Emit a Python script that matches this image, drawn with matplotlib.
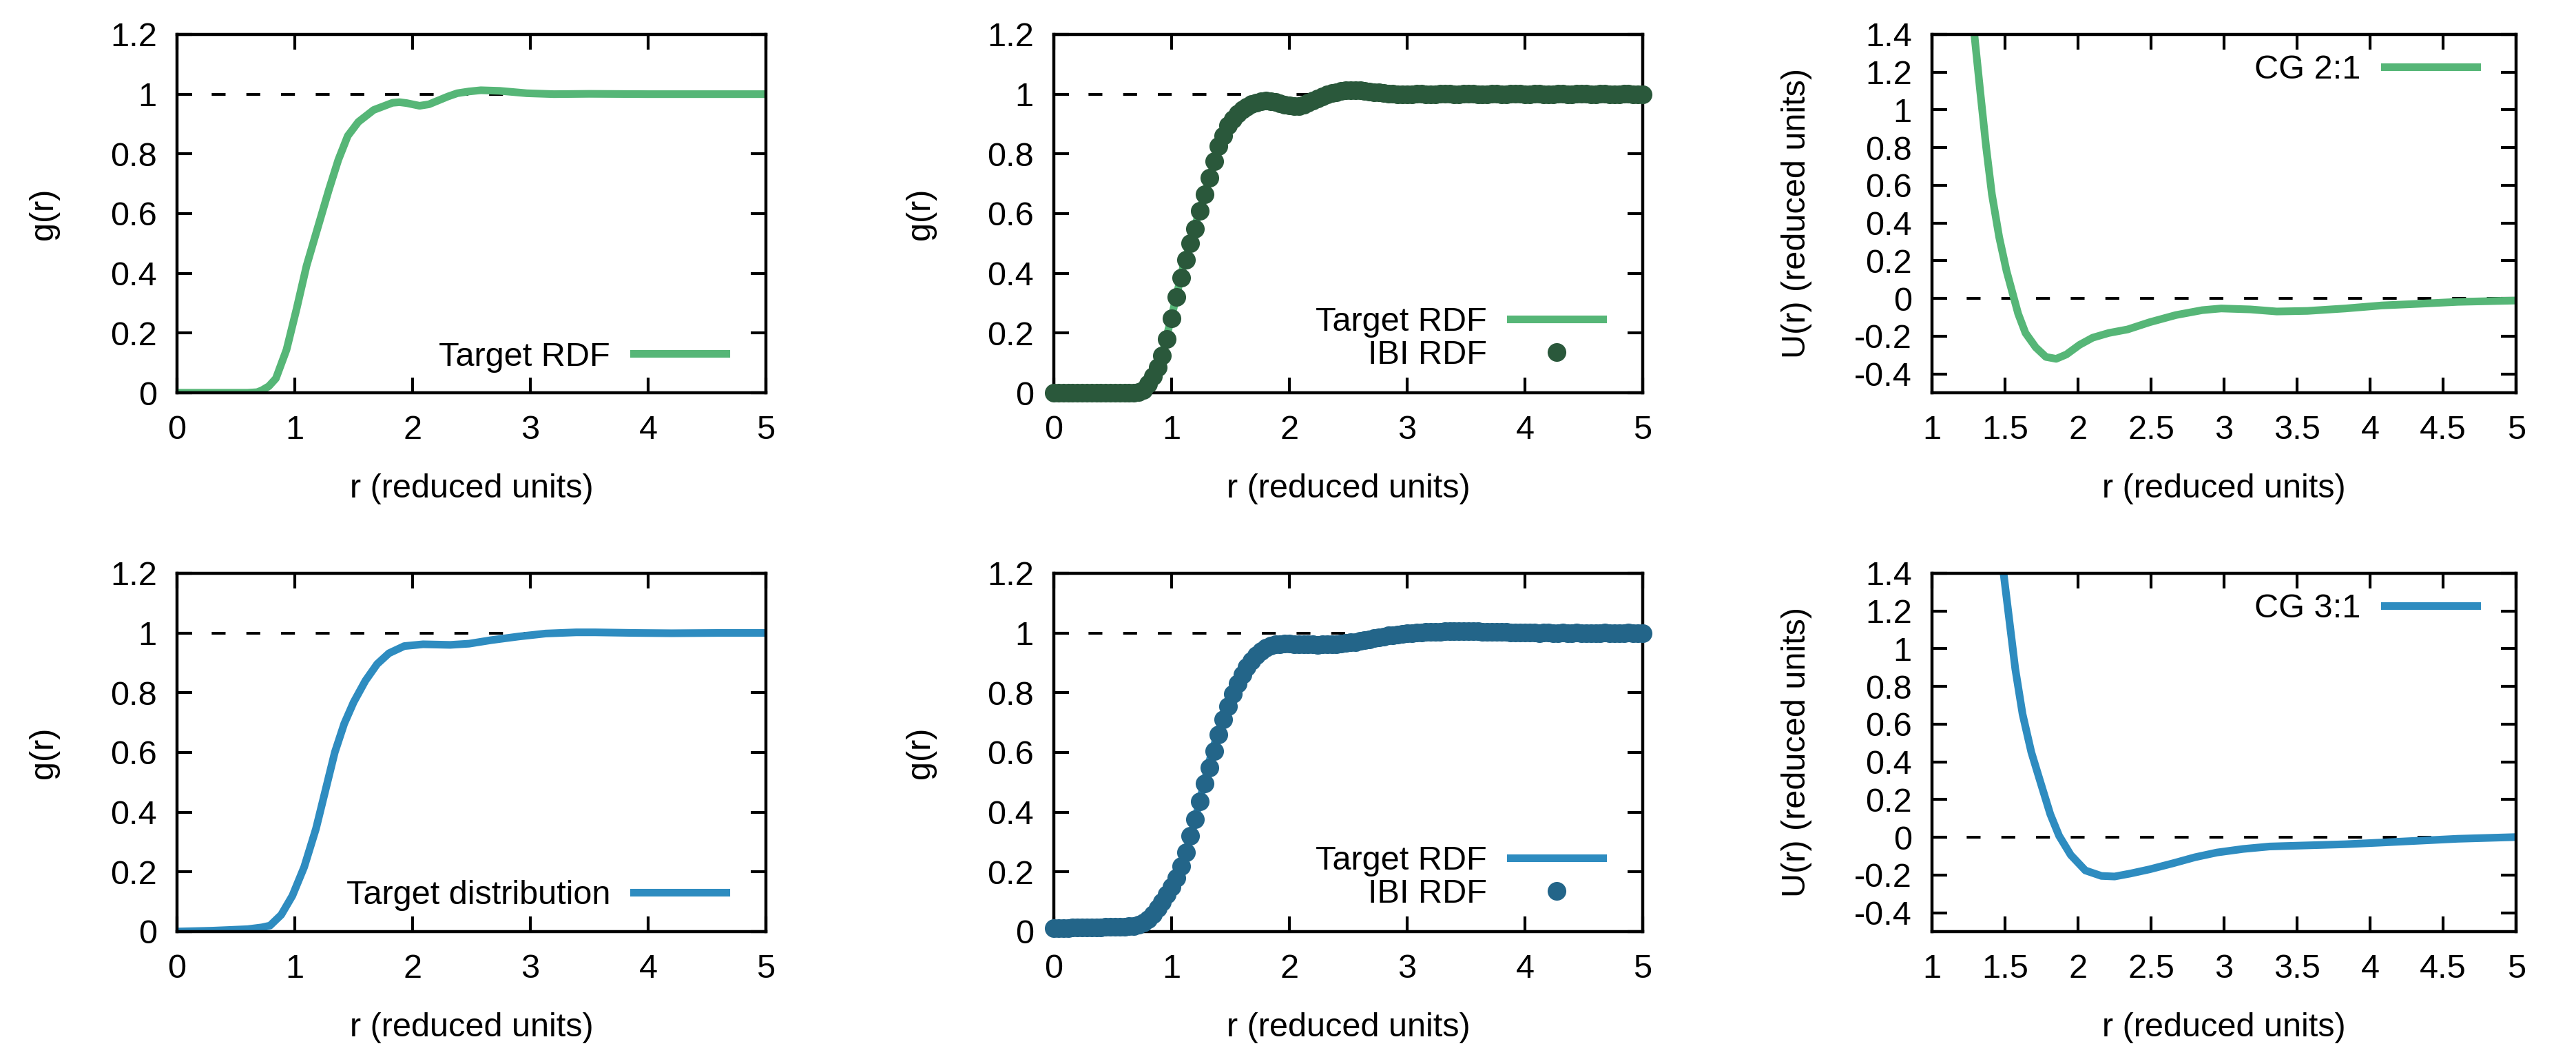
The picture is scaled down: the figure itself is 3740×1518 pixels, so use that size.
import numpy as np
import matplotlib
matplotlib.use("Agg")
import matplotlib.pyplot as plt
from matplotlib.ticker import FuncFormatter

plt.rcParams['font.family'] = ['Liberation Sans', 'DejaVu Sans']

# colours
green = '#56b677'
dgreen = '#2a583b'
blue = '#2e8cc0'
dblue = '#236589'

# Target RDF (top row)
r_target_top = [0.0, 0.3, 0.6, 0.68, 0.72, 0.78, 0.84, 0.93, 1.015, 1.10, 1.19, 1.29, 1.37,
                1.45, 1.54, 1.67, 1.83, 1.89, 1.95, 2.06, 2.14, 2.22, 2.30, 2.38, 2.48,
                2.58, 2.74, 2.97, 3.2, 3.5, 4.0, 4.5, 5.0]
g_target_top = [0.0, 0.0, 0.0, 0.002, 0.008, 0.022, 0.048, 0.144, 0.28, 0.425, 0.546, 0.68, 0.78,
                0.86, 0.907, 0.947, 0.971, 0.973, 0.970, 0.961, 0.966, 0.979, 0.992, 1.003, 1.009,
                1.013, 1.011, 1.003, 1.0, 1.001, 1.0, 1.0, 1.0]

# Target distribution (bottom row)
r_target_bot = [0.0, 0.3, 0.6, 0.72, 0.79, 0.885, 0.98, 1.08, 1.18, 1.26, 1.34, 1.42, 1.50,
                1.60, 1.70, 1.80, 1.93, 2.09, 2.32, 2.48, 2.67, 2.90, 3.13, 3.39, 3.55,
                3.88, 4.2, 4.6, 5.0]
g_target_bot = [0.0, 0.003, 0.008, 0.014, 0.02, 0.056, 0.12, 0.216, 0.344, 0.472, 0.6, 0.696, 0.768,
                0.84, 0.896, 0.932, 0.956, 0.962, 0.96, 0.964, 0.976, 0.988, 0.998, 1.002, 1.002,
                1.0, 0.999, 1.0, 1.0]

# IBI RDF points, r = 0.00, 0.04, ..., 5.00
r_ibi = np.round(np.arange(126) * 0.04, 2)
g_ibi_top = [
    0.000, 0.000, 0.000, 0.000, 0.000, 0.000, 0.000, 0.000, 0.000, 0.000,
    0.000, 0.000, 0.000, 0.000, 0.000, 0.000, 0.000, 0.001, 0.003, 0.010,
    0.030, 0.055, 0.085, 0.125, 0.180, 0.250, 0.320, 0.385, 0.445, 0.500,
    0.550, 0.610, 0.665, 0.720, 0.775, 0.825, 0.860, 0.895, 0.915, 0.935,
    0.948, 0.958, 0.966, 0.972, 0.976, 0.978, 0.977, 0.974, 0.970, 0.965,
    0.962, 0.960, 0.961, 0.965, 0.971, 0.978, 0.985, 0.992, 0.998, 1.003,
    1.007, 1.010, 1.012, 1.013, 1.013, 1.012, 1.011, 1.009, 1.007, 1.005,
    1.003, 1.002, 1.001, 1.000, 0.999, 0.999, 1.000, 1.001, 1.001, 1.000,
    0.999, 1.000, 1.001, 1.002, 1.001, 1.000, 1.000, 1.001, 1.002, 1.001,
    1.000, 0.999, 1.000, 1.001, 1.001, 1.000, 1.000, 1.001, 1.002, 1.001,
    1.000, 1.000, 1.001, 1.001, 1.000, 0.999, 1.000, 1.001, 1.001, 1.000,
    1.000, 1.001, 1.002, 1.001, 1.000, 1.000, 1.001, 1.001, 1.000, 0.999,
    1.000, 1.001, 1.001, 1.000, 1.000, 1.000,
]
g_ibi_bot = [
    0.012, 0.012, 0.012, 0.012, 0.013, 0.013, 0.013, 0.013, 0.014, 0.014,
    0.014, 0.015, 0.015, 0.016, 0.016, 0.017, 0.018, 0.019, 0.022, 0.030,
    0.042, 0.058, 0.078, 0.100, 0.125, 0.150, 0.180, 0.220, 0.265, 0.320,
    0.375, 0.435, 0.495, 0.550, 0.605, 0.660, 0.710, 0.755, 0.795, 0.830,
    0.860, 0.885, 0.907, 0.925, 0.940, 0.950, 0.957, 0.961, 0.963, 0.964,
    0.964, 0.963, 0.962, 0.962, 0.961, 0.961, 0.960, 0.961, 0.961, 0.962,
    0.963, 0.964, 0.966, 0.968, 0.970, 0.973, 0.976, 0.979, 0.982, 0.985,
    0.988, 0.991, 0.993, 0.995, 0.997, 0.999, 1.000, 1.001, 1.002, 1.003,
    1.003, 1.004, 1.004, 1.005, 1.005, 1.005, 1.006, 1.005, 1.005, 1.005,
    1.005, 1.004, 1.004, 1.004, 1.003, 1.003, 1.003, 1.002, 1.002, 1.002,
    1.001, 1.001, 1.001, 1.000, 1.001, 1.001, 1.000, 1.000, 1.001, 1.000,
    1.000, 1.001, 1.000, 1.000, 0.999, 1.000, 1.000, 1.001, 1.000, 1.000,
    1.000, 1.000, 1.001, 1.000, 1.000, 1.000,
]

# CG potentials
r_cg21 = [1.28, 1.29, 1.33, 1.37, 1.41, 1.46, 1.51, 1.55, 1.59, 1.64, 1.71, 1.78, 1.85, 1.92,
          2.01, 2.10, 2.21, 2.34, 2.49, 2.67, 2.85, 2.98, 3.18, 3.36, 3.57, 3.83, 4.08,
          4.34, 4.60, 5.0]
u_cg21 = [1.50, 1.40, 1.099, 0.807, 0.553, 0.325, 0.147, 0.033, -0.081, -0.183, -0.259, -0.31,
          -0.32, -0.297, -0.246, -0.208, -0.183, -0.164, -0.126, -0.088, -0.062, -0.053,
          -0.058, -0.069, -0.066, -0.053, -0.037, -0.028, -0.018, -0.011]
r_cg31 = [1.48, 1.49, 1.53, 1.57, 1.62, 1.68, 1.75, 1.81, 1.87, 1.95, 2.05, 2.16, 2.25, 2.36,
          2.49, 2.65, 2.80, 2.95, 3.13, 3.31, 3.57, 3.83, 4.08, 4.34, 4.60, 5.0]
u_cg31 = [1.52, 1.40, 1.147, 0.894, 0.653, 0.451, 0.273, 0.122, 0.008, -0.094, -0.176, -0.205,
          -0.208, -0.192, -0.17, -0.138, -0.106, -0.081, -0.062, -0.049, -0.043, -0.037,
          -0.028, -0.018, -0.008, 0.001]

FS = 35
LW = 8
MS = 19.5

fig = plt.figure(figsize=(37.4, 15.18), dpi=100)

cols = [0.0687, 0.4091, 0.7500]
widths = [0.2286, 0.2286, 0.2268]
rows = [0.6245, 0.1094]
h = 0.3426

fmt = FuncFormatter(lambda v, p: '%g' % round(v, 3))


def style(ax, xlim, ylim, xticks, yticks, ylabel, ylab_x):
    ax.set_xlim(xlim)
    ax.set_ylim(ylim)
    ax.set_xticks(xticks)
    ax.set_yticks(yticks)
    ax.xaxis.set_major_formatter(fmt)
    ax.yaxis.set_major_formatter(fmt)
    ax.tick_params(direction='in', length=16, width=3, top=True, right=True, labelsize=FS)
    ax.tick_params(axis='x', pad=23)
    ax.tick_params(axis='y', pad=21)
    for s in ax.spines.values():
        s.set_linewidth(3.2)
    ax.set_xlabel('r (reduced units)', fontsize=FS)
    ax.xaxis.set_label_coords(0.5, -0.225)
    ax.set_ylabel(ylabel, fontsize=FS)
    ax.yaxis.set_label_coords(ylab_x, 0.5)


def add_legend(ax, y):
    ax.legend(loc='center right', bbox_to_anchor=(0.932, y), frameon=False, markerfirst=False,
              handlelength=2.75, handletextpad=0.7, borderpad=0, borderaxespad=0,
              labelspacing=0.05, numpoints=1, fontsize=FS)


gticks = [0, 0.2, 0.4, 0.6, 0.8, 1.0, 1.2]
uticks = [-0.4, -0.2, 0, 0.2, 0.4, 0.6, 0.8, 1.0, 1.2, 1.4]
rticks = [0, 1, 2, 3, 4, 5]
rticks_u = [1, 1.5, 2, 2.5, 3, 3.5, 4, 4.5, 5]

panels = [
    (0, green, dgreen, r_target_top, g_target_top, g_ibi_top, 'Target RDF', 'CG 2:1', r_cg21, u_cg21),
    (1, blue, dblue, r_target_bot, g_target_bot, g_ibi_bot, 'Target distribution', 'CG 3:1', r_cg31, u_cg31),
]

for row, c, dc, rt, gt, gi, tlabel, cglabel, ru, uu in panels:
    y0 = rows[row]

    # target only
    ax = fig.add_axes([cols[0], y0, widths[0], h])
    ax.axhline(1.0, color='k', lw=2.9, dashes=(5, 7.5), zorder=1)
    ax.plot(rt, gt, color=c, lw=LW, solid_joinstyle='round', label=tlabel, zorder=2)
    style(ax, (0, 5), (0, 1.2), rticks, gticks, 'g(r)', -0.2)
    add_legend(ax, 0.1)

    # target + IBI
    ax = fig.add_axes([cols[1], y0, widths[1], h])
    ax.axhline(1.0, color='k', lw=2.9, dashes=(5, 7.5), zorder=1)
    ax.plot(rt, gt, color=c, lw=LW, solid_joinstyle='round', label='Target RDF', zorder=2)
    ax.plot(r_ibi, gi, 'o', color=dc, ms=MS, mew=0, label='IBI RDF', zorder=3, clip_on=False)
    style(ax, (0, 5), (0, 1.2), rticks, gticks, 'g(r)', -0.2)
    add_legend(ax, 0.151)

    # CG potential
    ax = fig.add_axes([cols[2], y0, widths[2], h])
    ax.axhline(0.0, color='k', lw=2.9, dashes=(5, 7.5), zorder=1)
    ax.plot(ru, uu, color=c, lw=LW, solid_joinstyle='round', label=cglabel, zorder=2)
    style(ax, (1, 5), (-0.5, 1.4), rticks_u, uticks, 'U(r) (reduced units)', -0.205)
    add_legend(ax, 0.9)

fig.savefig('out.png', dpi=100)
plt.close(fig)
